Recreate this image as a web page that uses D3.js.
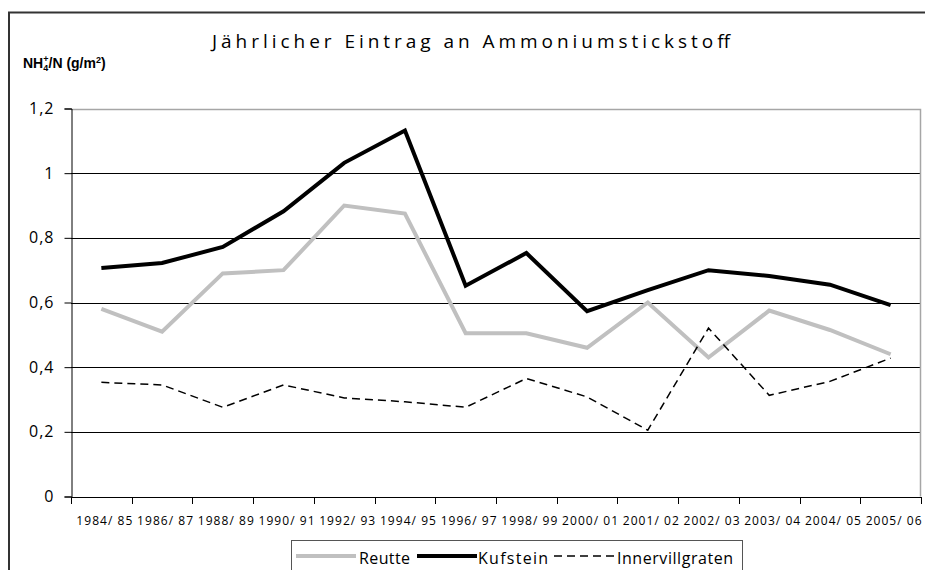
<html>
<head>
<meta charset="utf-8">
<script src="https://d3js.org/d3.v7.min.js"></script>
<style>
  body { margin: 0; background: #fff; }
  text { font-family: "Open Sans", sans-serif; }
</style>
</head>
<body>
<svg id="chart" width="925" height="570"></svg>
<script>

// data
var seasons = ["1984/ 85", "1986/ 87", "1988/ 89", "1990/ 91", "1992/ 93", "1994/ 95", "1996/ 97",
  "1998/ 99", "2000/ 01", "2001/ 02", "2002/ 03", "2003/ 04", "2004/ 05", "2005/ 06"];
var reutte = [0.58, 0.51, 0.69, 0.70, 0.90, 0.875, 0.505, 0.505, 0.46, 0.60, 0.43, 0.575, 0.515, 0.44];
var kufstein = [0.707, 0.722, 0.772, 0.882, 1.032, 1.132, 0.652, 0.753, 0.573, 0.638, 0.70, 0.682, 0.655, 0.592];
var innervillgraten = [0.353, 0.345, 0.276, 0.345, 0.305, 0.293, 0.276, 0.365, 0.308, 0.205, 0.521, 0.313, 0.356, 0.428];
var seriesNames = ["Reutte", "Kufstein", "Innervillgraten"];
var yTicks = [0, 0.2, 0.4, 0.6, 0.8, 1, 1.2];
var yTickLabels = ["0", "0,2", "0,4", "0,6", "0,8", "1", "1,2"];

(function() {

var svg = d3.select("#chart");

// plot area
var pLeft = 71, pRight = 921, pTop = 108.5, pBottom = 496.5;

var x = d3.scaleBand().domain(seasons).range([pLeft, pRight]);
var y = d3.scaleLinear().domain([0, 1.2]).range([pBottom, pTop]);

// outer frame (top + left edge)
svg.append("path")
  .attr("d", "M9,570 V12.5 H925")
  .attr("fill", "none")
  .attr("stroke", "#333")
  .attr("stroke-width", 2);

// title
svg.append("text")
  .attr("x", 212).attr("y", 48)
  .attr("textLength", 518).attr("lengthAdjust", "spacing")
  .style("font-size", "19px")
  .text("Jährlicher Eintrag an Ammoniumstickstoff");

// y axis title
var yt = svg.append("text")
  .attr("x", 23).attr("y", 68)
  .style("font-family", "'Liberation Sans', Arial, sans-serif")
  .style("font-size", "14px")
  .style("font-weight", "bold");
yt.append("tspan").text("NH");
yt.append("tspan").attr("dy", 3).style("font-size", "9px").text("4");
yt.append("tspan").attr("dy", -9).attr("dx", -5).style("font-size", "9px").text("+");
yt.append("tspan").attr("dy", 6).text("/N (g/m");
yt.append("tspan").attr("dy", -5).style("font-size", "9px").text("2");
yt.append("tspan").attr("dy", 5).text(")");

// gridlines
svg.append("g")
  .selectAll("line")
  .data(yTicks.filter(function(d) { return d > 0 && d < 1.2; }))
  .enter().append("line")
    .attr("x1", pLeft).attr("x2", pRight)
    .attr("y1", function(d) { return Math.round(y(d)) + 0.5; })
    .attr("y2", function(d) { return Math.round(y(d)) + 0.5; })
    .attr("stroke", "#000")
    .attr("stroke-width", 1);

// top and right border of plot area (grey)
svg.append("path")
  .attr("d", "M" + pLeft + "," + (Math.round(y(1.2)) + 0.5) + " H" + (pRight - 0.5) + " V" + pBottom)
  .attr("fill", "none")
  .attr("stroke", "#a6a6a6")
  .attr("stroke-width", 1.5);

// y axis
var yAxis = svg.append("g")
  .attr("transform", "translate(" + (pLeft + 0.5) + ",0)")
  .call(d3.axisLeft(y).tickValues(yTicks).tickSize(7).tickPadding(10)
    .tickFormat(function(d, i) { return yTickLabels[i]; }));
yAxis.select(".domain").attr("stroke", "#000");
yAxis.selectAll("text")
  .style("font-family", "'Open Sans', sans-serif")
  .style("font-size", "16px")
  .style("letter-spacing", "1px")
  .attr("fill", "#000");

// x axis: line, ticks at band boundaries, labels at centres
var xg = svg.append("g");
xg.append("line")
  .attr("x1", pLeft).attr("x2", pRight)
  .attr("y1", Math.round(pBottom) + 0.5).attr("y2", Math.round(pBottom) + 0.5)
  .attr("stroke", "#000");
var bounds = seasons.map(function(s) { return x(s); }).concat([pRight]);
xg.selectAll("line.tick")
  .data(bounds)
  .enter().append("line")
    .attr("class", "tick")
    .attr("x1", function(d) { return Math.round(d) + 0.5; })
    .attr("x2", function(d) { return Math.round(d) + 0.5; })
    .attr("y1", Math.round(pBottom)).attr("y2", Math.round(pBottom) + 7)
    .attr("stroke", "#000");
xg.selectAll("text")
  .data(seasons)
  .enter().append("text")
    .attr("x", function(d) { return x(d) + x.bandwidth() / 2 + 3; })
    .attr("y", 525)
    .attr("text-anchor", "middle")
    .attr("textLength", 56).attr("lengthAdjust", "spacing")
    .style("font-size", "12px")
    .text(function(d) { return d; });

// lines
var series = [
  { name: seriesNames[0], values: reutte, color: "#c0c0c0", width: 4, dash: null },
  { name: seriesNames[1], values: kufstein, color: "#000", width: 4, dash: null },
  { name: seriesNames[2], values: innervillgraten, color: "#000", width: 1.5, dash: "8,5" }
];

var line = d3.line()
  .x(function(d, i) { return x(seasons[i]) + x.bandwidth() / 2; })
  .y(function(d) { return y(d); });

svg.append("g")
  .selectAll("path")
  .data(series)
  .enter().append("path")
    .attr("d", function(d) { return line(d.values); })
    .attr("fill", "none")
    .attr("stroke", function(d) { return d.color; })
    .attr("stroke-width", function(d) { return d.width; })
    .attr("stroke-dasharray", function(d) { return d.dash; })
    .attr("stroke-linejoin", "miter");

// legend
var lg = svg.append("g");
lg.append("rect")
  .attr("x", 291.5).attr("y", 540.5)
  .attr("width", 451).attr("height", 40)
  .attr("fill", "#fff")
  .attr("stroke", "#555");
var legendItems = [
  { x1: 296, x2: 356, tx: 359, tw: 51 },
  { x1: 417, x2: 477, tx: 478, tw: 70 },
  { x1: 554, x2: 614, tx: 617, tw: 116 }
];
series.forEach(function(s, i) {
  var it = legendItems[i];
  lg.append("line")
    .attr("x1", it.x1).attr("x2", it.x2)
    .attr("y1", 556).attr("y2", 556)
    .attr("stroke", s.color)
    .attr("stroke-width", s.width)
    .attr("stroke-dasharray", s.dash);
  lg.append("text")
    .attr("x", it.tx).attr("y", 564)
    .attr("textLength", it.tw).attr("lengthAdjust", "spacing")
    .style("font-size", "16px")
    .text(s.name);
});

})();

</script>
</body>
</html>
